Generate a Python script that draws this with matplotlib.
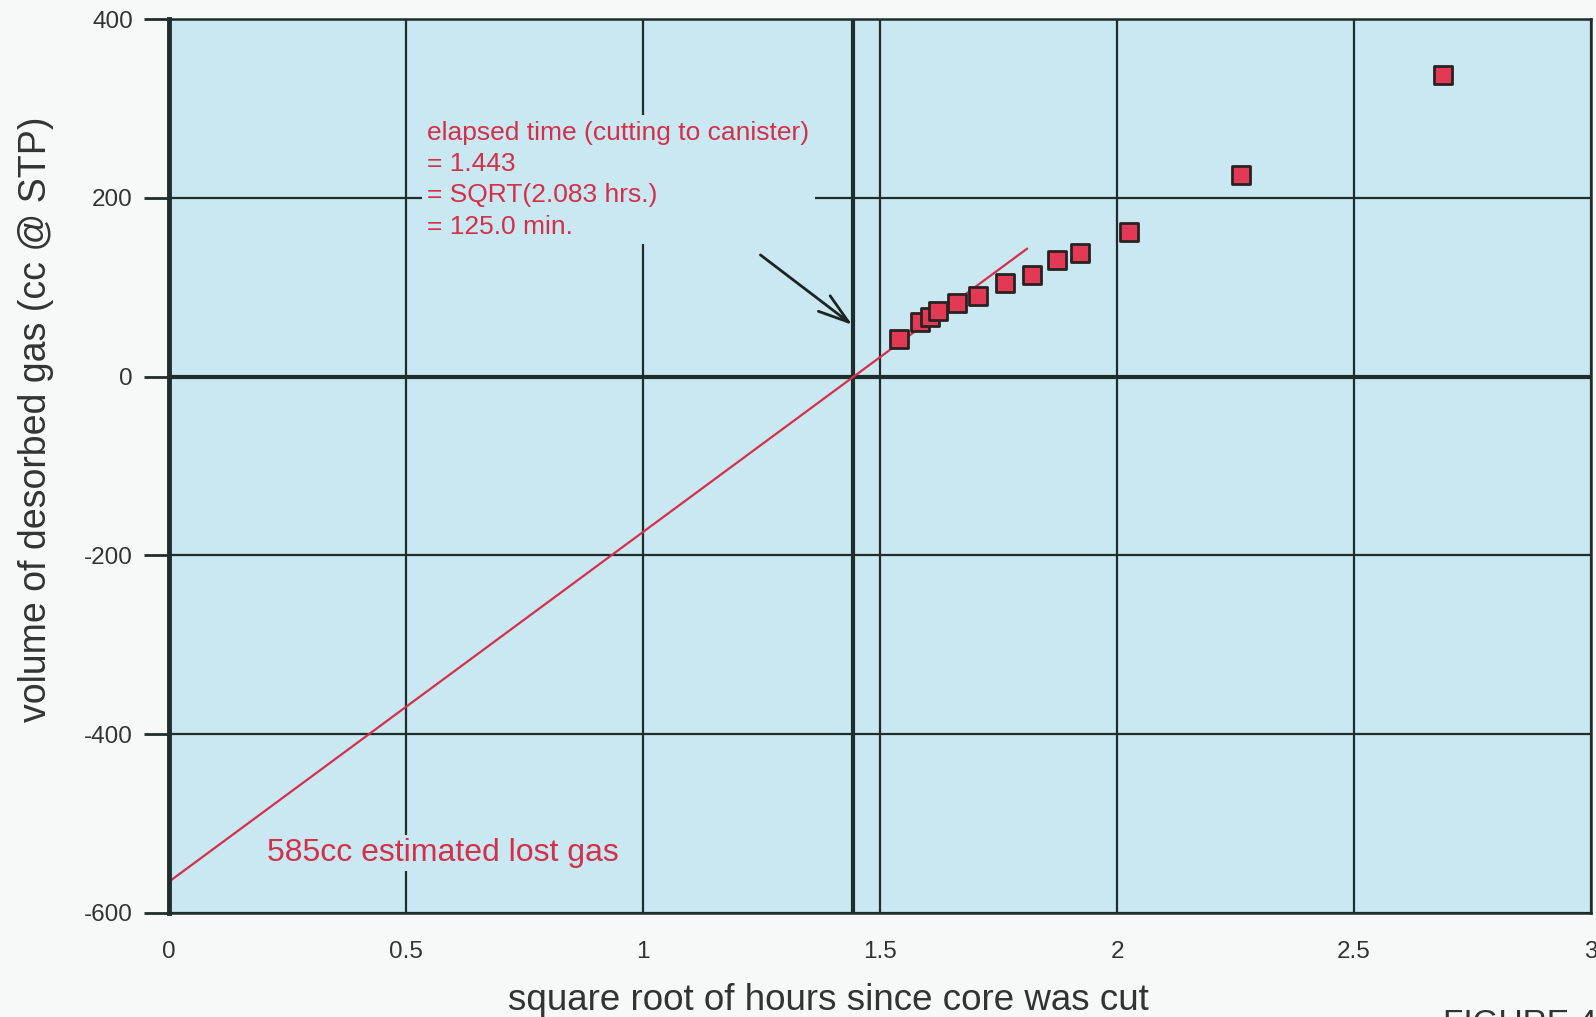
"""
Desorbed gas vs square root of time, with lost-gas extrapolation line
"""
import matplotlib.pyplot as plt

# data
sqrt_hours = [1.540, 1.584, 1.605, 1.622, 1.662, 1.707, 1.764, 1.821,
              1.873, 1.922, 2.025, 2.262, 2.688]
gas_volume = [42, 61, 67, 73, 82, 90, 105, 114, 130, 138, 162, 226, 337]

# regression line (lost gas estimate)
fit_x = [0.0, 1.81]
fit_y = [-565, 143]
elapsed = 1.443

x_ticks = [0, 0.5, 1, 1.5, 2, 2.5, 3]
x_labels = ["0", "0.5", "1", "1.5", "2", "2.5", "3"]
y_ticks = [-600, -400, -200, 0, 200, 400]

plt.rcParams['font.family'] = ['Liberation Sans', 'DejaVu Sans']
plt.rcParams['axes.unicode_minus'] = False

bg = '#f7f9f9'
face = '#c9e8f2'
grid_c = '#1f2d2d'
red = '#d4304a'

fig = plt.figure(figsize=(15.96, 10.17), dpi=100, facecolor=bg)
ax = fig.add_axes([0.1059, 0.1023, 0.891, 0.879])
ax.set_facecolor(face)

ax.set_xlim(0, 3)
ax.set_ylim(-600, 400)
ax.set_xticks(x_ticks)
ax.set_xticklabels(x_labels)
ax.set_yticks(y_ticks)
ax.tick_params(axis='x', length=0, pad=20, labelsize=17.5, labelcolor='#333333')
ax.tick_params(axis='y', length=18, width=2, color=grid_c, pad=8,
               labelsize=17.5, labelcolor='#333333')

ax.grid(True, color=grid_c, linewidth=1.6)
ax.set_axisbelow(True)
for side in ['top', 'right', 'bottom']:
    ax.spines[side].set_color(grid_c)
    ax.spines[side].set_linewidth(1.8)
ax.spines['left'].set_color(grid_c)
ax.spines['left'].set_linewidth(3.5)

# heavy lines at zero volume and at elapsed time
ax.axhline(0, color=grid_c, linewidth=3, zorder=1)
ax.axvline(elapsed, color=grid_c, linewidth=3, zorder=1)

ax.plot(fit_x, fit_y, color=red, linewidth=1.6, zorder=2)
ax.scatter(sqrt_hours, gas_volume, marker='s', s=150, color='#e23a55',
           edgecolors='#2a2222', linewidths=2, zorder=4)

ax.text(0.545, 286,
        "elapsed time (cutting to canister)\n= 1.443\n= SQRT(2.083 hrs.)\n= 125.0 min.",
        color=red, fontsize=19, va='top', ha='left', linespacing=1.38,
        bbox=dict(facecolor=face, edgecolor='none', pad=4), zorder=3)

ax.text(0.207, -533, "585cc estimated lost gas", color=red, fontsize=23,
        va='center', ha='left',
        bbox=dict(facecolor=face, edgecolor='none', pad=2), zorder=3)

ax.annotate("", xy=(1.446, 56), xytext=(1.243, 138),
            arrowprops=dict(arrowstyle='->, head_length=1.1, head_width=0.35',
                            color='#1c2424', linewidth=2, mutation_scale=20),
            zorder=5)

ax.set_xlabel("square root of hours since core was cut", fontsize=26.5,
              color='#333333')
ax.xaxis.set_label_coords(0.464, -0.078)
ax.set_ylabel("volume of desorbed gas (cc @ STP)", fontsize=27,
              color='#333333')
ax.yaxis.set_label_coords(-0.081, 0.552)

fig.text(0.904, 0.008, "FIGURE 4", fontsize=24, color='#333333',
         va='top', ha='left')

fig.savefig("out.png", dpi=100, facecolor=bg)
